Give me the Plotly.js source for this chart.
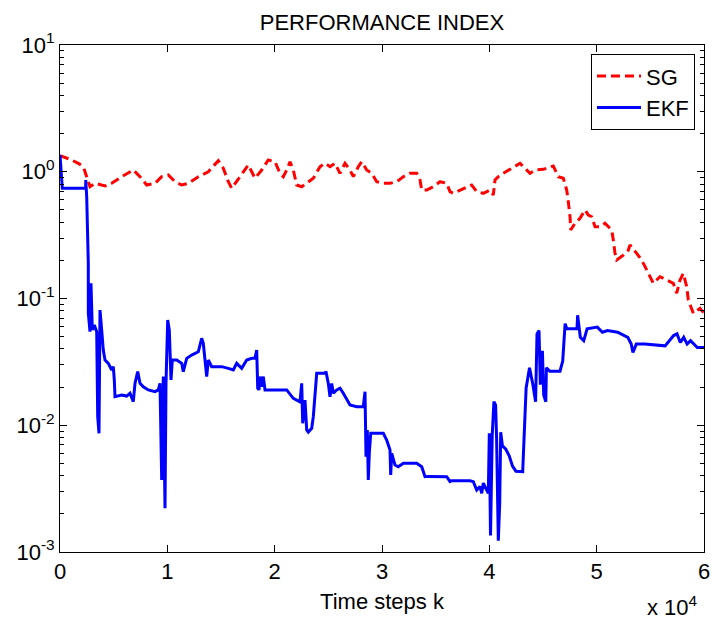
<!DOCTYPE html>
<html>
<head>
<meta charset="utf-8">
<script src="https://cdn.plot.ly/plotly-3.0.1.min.js"></script>
<style>html,body{margin:0;padding:0;background:#fff;}#chart{width:712px;height:626px;}</style>
</head>
<body>
<div id="chart"></div>
<script>
// ---- data ----
const sgX = [0,932,1705,2171,2488,2795,3261,4193,4817,5749,6830,7454,8078,8851,9475,10090,10715,11339,11954,12885,13817,14749,15215,15681,15997,16771,17544,18168,18793,19407,20032,20497,20805,21122,21429,21737,21895,22053,22519,22985,23600,24224,24690,25156,25622,26088,26553,27019,27327,27793,28109,28575,29041,29507,30122,30746,31370,31985,32610,33234,33541,33700,34166,34780,35405,36029,36336,36644,37268,37892,38358,38824,39439,40063,40370,40529,40836,41302,42085,42858,43324,43790,44256,45029,45961,46426,46892,47209,47358,47517,47582,47983,48448,48914,49222,49538,49846,50312,50777,51085,51402,51551,51709,51868,52483,52949,53107,53731,54197,54663,54970,55278,55902,56526,57141,57458,57765,58073,58390,58539,59005,59628,60000];
const sgY = [1.339,1.254,1.166,1.096,0.914,0.762,0.811,0.772,0.811,0.914,1.032,0.914,0.786,0.811,0.914,0.943,0.835,0.786,0.811,0.914,1.0,1.222,1.065,0.835,0.740,0.914,1.130,0.888,1.032,1.238,1.200,0.972,0.914,1.032,1.200,1.032,0.914,0.786,0.762,0.811,0.888,1.096,1.166,1.096,1.166,0.972,1.166,1.032,0.914,1.096,1.200,1.032,0.972,0.835,0.811,0.811,0.835,0.914,0.972,0.972,0.861,0.718,0.718,0.762,0.835,0.811,0.696,0.676,0.718,0.762,0.786,0.696,0.676,0.718,0.656,0.861,0.914,0.972,1.065,1.166,1.065,0.972,1.032,1.045,1.110,0.914,0.888,0.718,0.580,0.442,0.347,0.392,0.429,0.499,0.456,0.442,0.368,0.368,0.392,0.368,0.347,0.289,0.227,0.201,0.220,0.241,0.264,0.227,0.201,0.168,0.1486,0.1318,0.1486,0.140,0.1318,0.110,0.140,0.158,0.124,0.0973,0.0764,0.0837,0.0764];

const ekfX = [0,158,214,466,2394,2400,2488,2637,2640,2795,2888,3009,3196,3419,3513,3634,3727,3885,4034,4193,4500,4817,4966,5059,5124,5749,6214,6522,6830,6988,7239,7454,7761,8227,8851,9158,9317,9475,9624,9783,9876,10034,10183,10342,10463,10873,11339,11488,11805,12271,12885,13202,13351,13668,13817,14134,14600,15066,15681,16147,16463,16929,17395,17861,18168,18327,18420,18541,18634,18793,18942,19100,20032,21122,21737,22360,22519,22612,22826,22985,23134,23451,23600,23758,23917,24690,24783,24997,25156,25314,25463,25780,26088,26395,27019,27643,28258,28417,28510,28631,28724,28817,28948,30122,30438,30746,30811,30904,31212,31519,31985,33234,33700,34007,34315,36029,36336,36494,38200,38507,38824,39131,39290,39439,39756,39905,39998,40110,40268,40427,40585,40678,40836,40966,41060,41218,41535,41852,42159,42476,43109,43268,43426,43743,44060,44311,44442,44629,44750,44945,45066,45262,45318,45635,46585,46837,47060,47219,48169,48225,48477,48794,49110,50061,50536,51011,51952,52902,53219,53378,53694,54477,56377,57169,57486,57793,58110,58427,58744,59377,60000];
const ekfY = [1.356,0.811,0.740,0.740,0.740,0.861,0.636,0.1895,0.0764,0.0547,0.1318,0.0564,0.0618,0.0547,0.01168,0.00864,0.0811,0.0564,0.0392,0.0327,0.0308,0.0273,0.0290,0.0228,0.0168,0.0173,0.0170,0.0179,0.01534,0.0214,0.0265,0.0214,0.0201,0.0190,0.0184,0.0190,0.0214,0.0037,0.0242,0.00221,0.0214,0.0677,0.0564,0.0228,0.0327,0.0327,0.0308,0.0265,0.0337,0.0358,0.0380,0.0485,0.0443,0.0242,0.0327,0.0290,0.0290,0.0290,0.0281,0.0273,0.0308,0.0281,0.0327,0.0337,0.0337,0.0392,0.0196,0.0190,0.0242,0.0201,0.0242,0.0190,0.0190,0.0190,0.0163,0.0153,0.0214,0.01036,0.0158,0.00917,0.00883,0.00946,0.01168,0.0184,0.0257,0.0257,0.0265,0.0214,0.0168,0.0214,0.0179,0.0190,0.0196,0.0179,0.01445,0.0140,0.0140,0.0184,0.00565,0.00917,0.0037,0.0060,0.00864,0.00864,0.00765,0.00638,0.00405,0.0060,0.00486,0.0047,0.00501,0.00501,0.0047,0.00393,0.00395,0.00393,0.00359,0.00365,0.00365,0.00359,0.00308,0.00328,0.0029,0.0035,0.00308,0.0029,0.00864,0.00135,0.00829,0.01534,0.01442,0.00779,0.00123,0.00242,0.00882,0.00689,0.00647,0.00573,0.00476,0.00434,0.00430,0.00829,0.0196,0.0284,0.0209,0.0153,0.0526,0.0559,0.0209,0.0387,0.01736,0.0153,0.0284,0.0267,0.0267,0.0321,0.0633,0.0577,0.0577,0.0737,0.0494,0.0465,0.0577,0.0595,0.0542,0.0559,0.0542,0.0494,0.0437,0.0375,0.0437,0.0437,0.0423,0.0510,0.0526,0.0450,0.0494,0.0437,0.0465,0.0411,0.0411];

const seriesNames = ['SG', 'EKF'];
const xTickVals = [0, 10000, 20000, 30000, 40000, 50000, 60000];
const xTickText = ['0', '1', '2', '3', '4', '5', '6'];
const yTickVals = [0.001, 0.01, 0.1, 1, 10];
const yTickText = ['10<sup>-3</sup>', '10<sup>-2</sup>', '10<sup>-1</sup>', '10<sup>0</sup>', '10<sup>1</sup>'];
const titleText = 'PERFORMANCE INDEX';
const xLabel = 'Time steps k';
const xScaleNote = 'x 10<sup>4</sup>';

// ---- chart ----
const FONT = 'Liberation Sans, Arial, Helvetica, sans-serif';

// minor log ticks (2..9 within each decade of the axis)
const minorTickVals = [];
for (let e = -3; e < 1; e++) {
  for (let d = 2; d <= 9; d++) minorTickVals.push(d * Math.pow(10, e));
}

const traces = [
  {x: sgX, y: sgY, name: seriesNames[0], type: 'scatter', mode: 'lines',
   line: {color: '#ff0000', width: 3, dash: '9px,5px'}},
  {x: ekfX, y: ekfY, name: seriesNames[1], type: 'scatter', mode: 'lines',
   line: {color: '#0000ff', width: 3}},
  // empty helper trace so the minor-tick overlay axis is drawn
  {x: [], y: [], yaxis: 'y2', type: 'scatter', mode: 'lines', showlegend: false, hoverinfo: 'skip'}
];

const axisCommon = {
  showline: true, linecolor: 'black', linewidth: 1, mirror: 'ticks',
  ticks: 'inside', ticklen: 7, tickcolor: 'black', tickwidth: 1,
  showgrid: false, zeroline: false, tickfont: {size: 22, family: FONT, color: 'black'}
};

const layout = {
  width: 712, height: 626,
  margin: {l: 60, r: 8, t: 45, b: 74},
  paper_bgcolor: 'white', plot_bgcolor: 'white',
  font: {family: FONT, size: 22, color: 'black'},
  showlegend: true,
  title: {text: titleText, font: {size: 22, family: FONT, color: 'black'},
          xref: 'paper', x: 0.5, xanchor: 'center',
          yref: 'container', y: 1 - 22/626, yanchor: 'middle'},
  xaxis: Object.assign({}, axisCommon, {
    range: [0, 60000], tickmode: 'array', tickvals: xTickVals, ticktext: xTickText,
    title: {text: xLabel, font: {size: 22, family: FONT}, standoff: 10}
  }),
  yaxis: Object.assign({}, axisCommon, {
    type: 'log', range: [-3, 1], tickmode: 'array', tickvals: yTickVals, ticktext: yTickText
  }),
  yaxis2: {
    type: 'log', range: [-3, 1], overlaying: 'y', side: 'left', anchor: 'x',
    tickmode: 'array', tickvals: minorTickVals, showticklabels: false,
    ticks: 'inside', ticklen: 4, tickcolor: 'black', tickwidth: 1,
    showline: true, linecolor: 'black', linewidth: 1, mirror: 'ticks',
    showgrid: false, zeroline: false
  },
  legend: {x: 0.986, xanchor: 'right', y: 0.982, yanchor: 'top',
           bgcolor: 'white', bordercolor: 'black', borderwidth: 1,
           itemwidth: 44, tracegroupgap: 0,
           font: {size: 22, family: FONT, color: 'black'}},
  annotations: [{text: xScaleNote, xref: 'paper', yref: 'paper', x: 0.994, xanchor: 'right',
                 y: -0.107, yanchor: 'middle', showarrow: false,
                 font: {size: 22, family: FONT, color: 'black'}}]
};

Plotly.newPlot('chart', traces, layout, {displayModeBar: false, staticPlot: true});
</script>
</body>
</html>
